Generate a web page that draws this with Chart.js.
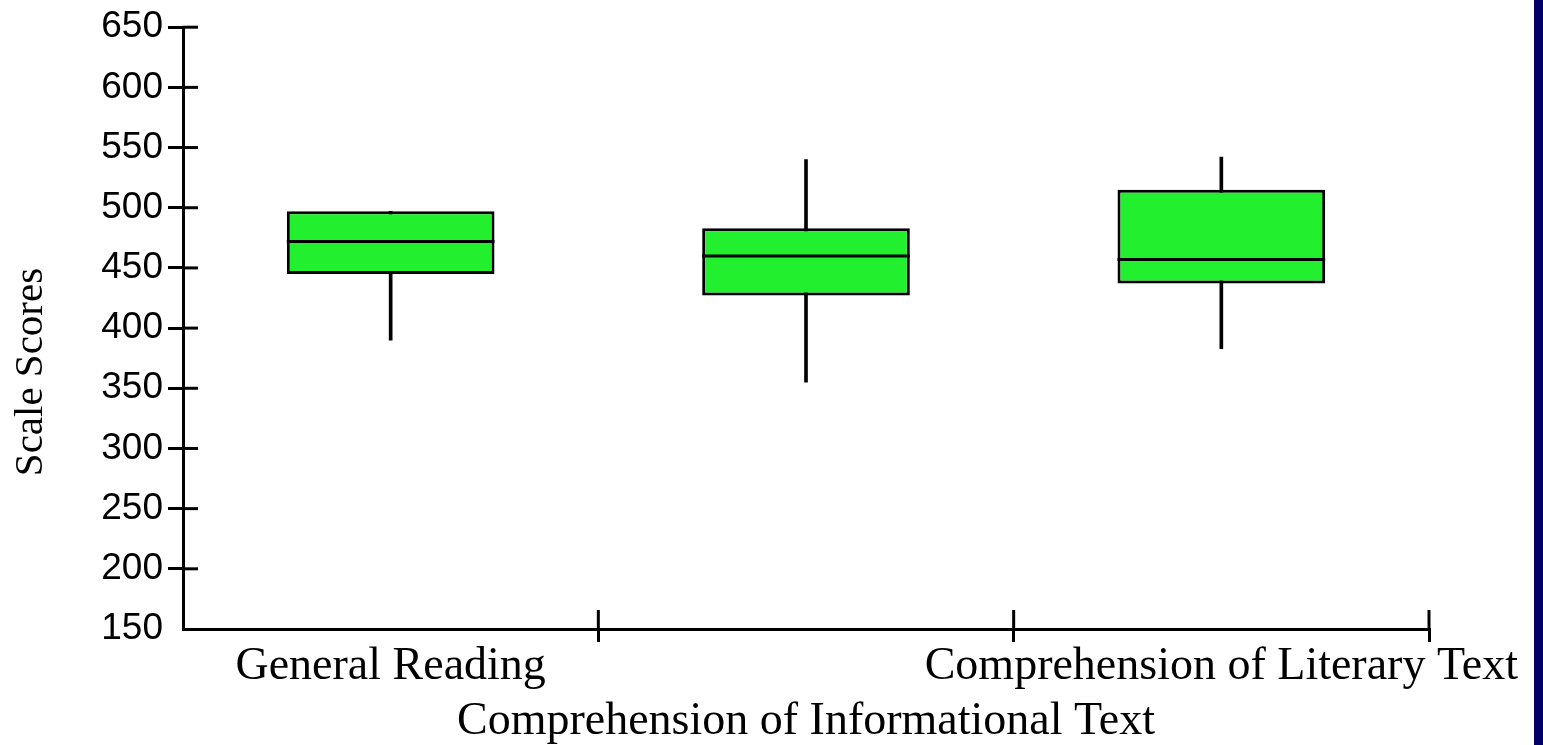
<!DOCTYPE html>
<html>
<head>
<meta charset="utf-8">
<title>Scale Scores</title>
<script src="https://cdn.jsdelivr.net/npm/chart.js@4.4.1/dist/chart.umd.min.js"></script>
<style>
    html, body { margin: 0; padding: 0; background: #ffffff; overflow: hidden; }
    #wrap { position: relative; width: 1543px; height: 745px; }
    #edge { position: absolute; top: 0; right: 0; width: 9px; height: 745px; background: #000066; }
</style>
</head>
<body>
<div id="wrap">
    <canvas id="boxChart" width="1543" height="745"></canvas>
    <div id="edge"></div>
</div>
<script>
// Datos del gráfico
const categories = [
    ['General Reading'],
    ['', 'Comprehension of Informational Text'],
    ['Comprehension of Literary Text']
];
const lowValues = [390, 355, 383];
const q1Values = [445, 427, 437];
const medianValues = [472, 460, 457];
const q3Values = [497, 483, 515];
const highValues = [497, 540, 542];
const yTicks = [150, 200, 250, 300, 350, 400, 450, 500, 550, 600, 650];

const yTitle = 'Scale Scores';

// Líneas de mediana, mitad interior de las marcas y título del eje Y
const boxExtras = {
    id: 'boxExtras',
    afterDatasetsDraw(chart) {
        const { ctx, chartArea } = chart;
        const x = chart.scales.x;
        const y = chart.scales.y;
        ctx.save();
        ctx.strokeStyle = '#000000';
        ctx.lineWidth = 3;

        const meta = chart.getDatasetMeta(1);
        meta.data.forEach((bar, i) => {
            const py = y.getPixelForValue(medianValues[i]);
            const half = bar.width / 2;
            ctx.beginPath();
            ctx.moveTo(bar.x - half, py);
            ctx.lineTo(bar.x + half, py);
            ctx.stroke();
        });

        y.ticks.forEach((t, i) => {
            if (i === 0) return;
            const py = y.getPixelForTick(i);
            ctx.beginPath();
            ctx.moveTo(chartArea.left, py);
            ctx.lineTo(chartArea.left + 15, py);
            ctx.stroke();
        });

        for (let i = 1; i <= categories.length; i++) {
            const px = x.getPixelForValue(i - 0.5);
            ctx.beginPath();
            ctx.moveTo(px, chartArea.bottom);
            ctx.lineTo(px, chartArea.bottom - 19);
            ctx.stroke();
        }
        ctx.restore();
    },
    afterDraw(chart) {
        const ctx = chart.ctx;
        ctx.save();
        ctx.translate(31.5, 372);
        ctx.rotate(-Math.PI / 2);
        ctx.font = '41px "Liberation Serif"';
        ctx.fillStyle = '#000000';
        ctx.textAlign = 'center';
        ctx.textBaseline = 'middle';
        ctx.fillText(yTitle, 0, 0);
        ctx.restore();
    }
};

const ctx = document.getElementById('boxChart').getContext('2d');

new Chart(ctx, {
    type: 'bar',
    data: {
        labels: categories,
        datasets: [
            {
                label: 'whisker',
                data: lowValues.map((v, i) => [v, highValues[i]]),
                backgroundColor: '#000000',
                borderWidth: 0,
                barThickness: 3,
                grouped: false,
                order: 2
            },
            {
                label: 'box',
                data: q1Values.map((v, i) => [v, q3Values[i]]),
                backgroundColor: '#22f02e',
                borderColor: '#000000',
                borderWidth: 3,
                borderSkipped: false,
                barPercentage: 0.5,
                categoryPercentage: 1,
                grouped: false,
                order: 1
            }
        ]
    },
    options: {
        responsive: false,
        animation: false,
        devicePixelRatio: 1,
        layout: {
            padding: { top: 26, right: 114, bottom: 0, left: 0 }
        },
        plugins: {
            legend: { display: false },
            tooltip: { enabled: false }
        },
        scales: {
            x: {
                offset: true,
                grid: {
                    offset: true,
                    drawOnChartArea: false,
                    tickLength: 13,
                    lineWidth: 3,
                    color: c => (c.index === 0 ? 'rgba(0,0,0,0)' : '#000000')
                },
                border: { color: '#000000', width: 3 },
                ticks: {
                    color: '#000000',
                    padding: -3,
                    maxRotation: 0,
                    autoSkip: false,
                    font: { family: '"Liberation Serif", "Times New Roman", serif', size: 46, lineHeight: 1.2 }
                },
                afterFit(scale) {
                    scale.height = 116;
                    scale.paddingLeft = 0;
                    scale.paddingRight = 0;
                }
            },
            y: {
                min: yTicks[0],
                max: yTicks[yTicks.length - 1],
                afterBuildTicks(scale) {
                    scale.ticks = yTicks.map(v => ({ value: v }));
                },
                grid: {
                    drawOnChartArea: false,
                    tickLength: 15,
                    lineWidth: 3,
                    color: c => (c.index === 0 ? 'rgba(0,0,0,0)' : '#000000')
                },
                border: { color: '#000000', width: 3 },
                ticks: {
                    color: '#000000',
                    padding: 5,
                    font: { family: '"Liberation Sans", Arial, sans-serif', size: 37 }
                },
                afterFit(scale) {
                    scale.width = 183;
                }
            }
        }
    },
    plugins: [boxExtras]
});
</script>
</body>
</html>
